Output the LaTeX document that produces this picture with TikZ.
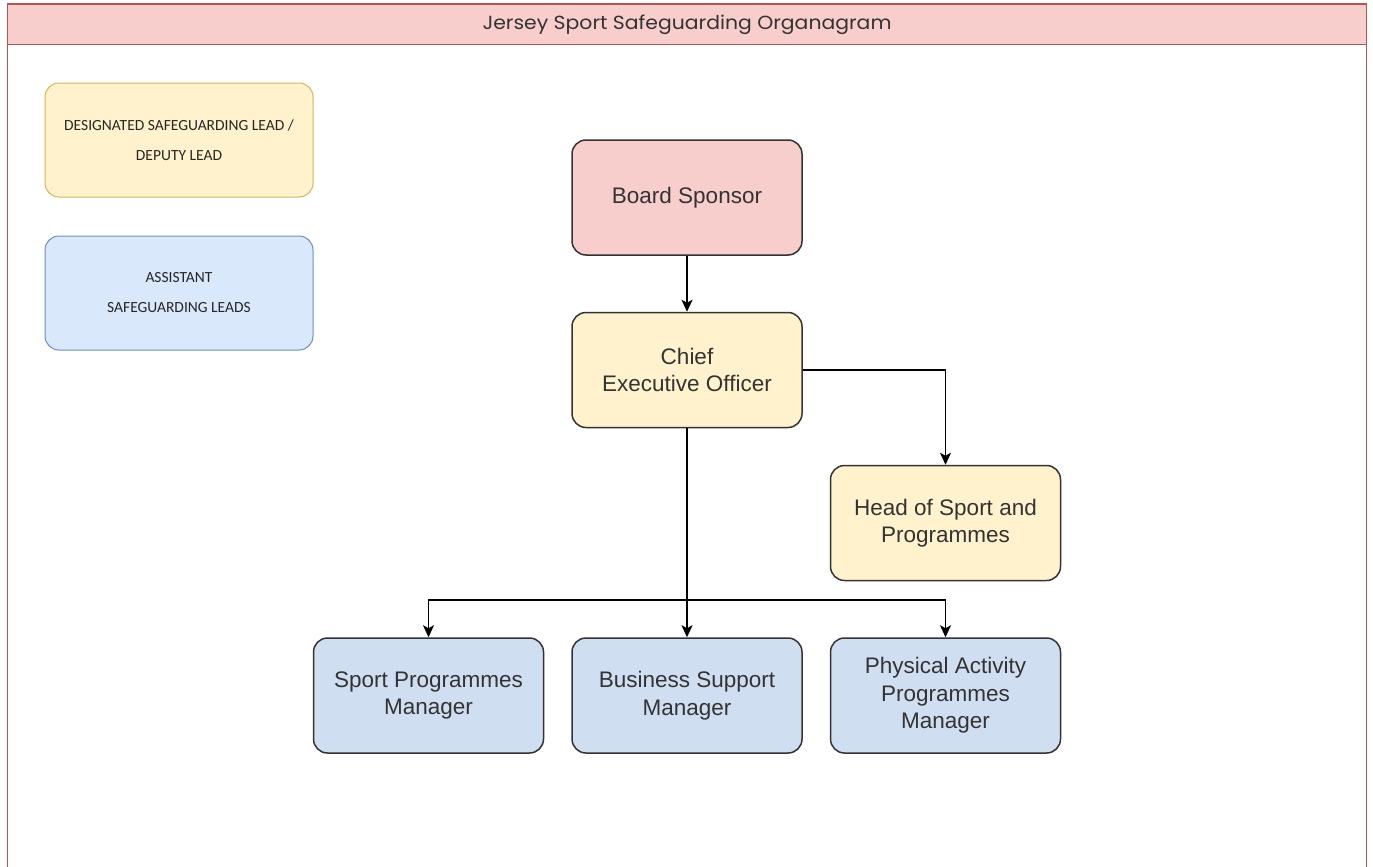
\documentclass[tikz,border=0pt]{standalone}
\usepackage{fontspec}
\setmainfont{Liberation Sans}
\newfontfamily\titlefont{Poppins}
\newfontfamily\legendfont{Carlito}
\usetikzlibrary{arrows.meta}
\definecolor{pinkfill}{HTML}{F8CECC}
\definecolor{pinkline}{HTML}{B85450}
\definecolor{yelfill}{HTML}{FFF2CC}
\definecolor{yelline}{HTML}{D6B656}
\definecolor{bluefill}{HTML}{DAE8FC}
\definecolor{blueline}{HTML}{6C8EBF}
\definecolor{nodeblue}{HTML}{D0DEF2}
\definecolor{darkline}{HTML}{333333}
\definecolor{textgrey}{HTML}{333333}
\tikzset{
  orgbox/.style={draw=darkline, line width=1.5pt, rounded corners=14pt,
    minimum width=230pt, minimum height=115pt, inner sep=0pt, align=center,
    text=textgrey, font=\fontsize{22.5}{27.5}\selectfont},
  legendbox/.style={line width=1pt, rounded corners=14pt,
    minimum width=268pt, minimum height=114pt, inner sep=0pt, align=center,
    text=black!85, font=\legendfont\fontsize{15.5}{30}\selectfont},
  conn/.style={line width=1.7pt, draw=black, -{Stealth[length=12pt,width=11pt,inset=3pt]}},
  plain/.style={line width=1.7pt, draw=black}
}
\begin{document}
\begin{tikzpicture}[x=1pt,y=-1pt]
\useasboundingbox (0,0) rectangle (1373,867);
% frame
\draw[pinkline, line width=1pt, fill=white] (7,4) rectangle (1366,880);
\node[draw=pinkline, line width=1pt, fill=pinkfill, minimum width=1359pt, minimum height=40pt, inner sep=0pt,
  anchor=north west, font=\titlefont\fontsize{19}{22}\selectfont, text=black!80] (title) at (7,4) {\resizebox{409pt}{\height}{Jersey Sport Safeguarding Organagram}};
% legend
\node[legendbox, draw=yelline, fill=yelfill] (leg1) at (179,140) {DESIGNATED SAFEGUARDING LEAD /\\DEPUTY LEAD};
\node[legendbox, draw=blueline, fill=bluefill] (leg2) at (179,293) {ASSISTANT\\SAFEGUARDING LEADS};
% nodes
\node[orgbox, fill=pinkfill] (board) at (687,197.5) {Board Sponsor};
\node[orgbox, fill=yelfill] (ceo) at (687,370) {Chief\\Executive Officer};
\node[orgbox, fill=yelfill] (head) at (945.5,523) {Head of Sport and\\Programmes};
\node[orgbox, fill=nodeblue] (spm) at (428.5,695.5) {Sport Programmes\\Manager};
\node[orgbox, fill=nodeblue] (bsm) at (687,695.5) {Business Support\\Manager};
\node[orgbox, fill=nodeblue] (pam) at (945.5,695.5) {Physical Activity\\Programmes\\Manager};
% connectors
\coordinate (split) at (687,600);
\draw[conn] (board) -- (ceo);
\draw[conn] (ceo.east) -| (head.north);
\draw[plain] (ceo.south) -- (split);
\draw[conn] (split) -- (bsm.north);
\draw[conn] (split) -| (spm.north);
\draw[conn] (split) -| (pam.north);
\end{tikzpicture}
\end{document}
